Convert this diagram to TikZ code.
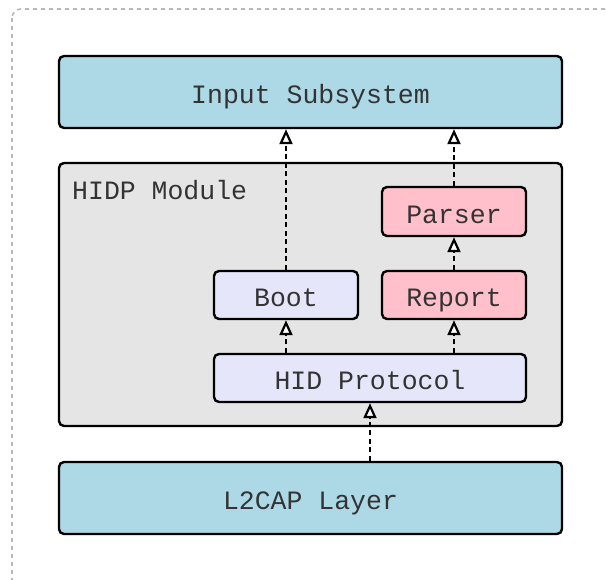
\documentclass[tikz,border=0pt]{standalone}
\usepackage{fontspec}
\setmonofont{Liberation Mono}
\usetikzlibrary{arrows.meta}
\definecolor{inblue}{HTML}{ADD8E6}
\definecolor{modgray}{HTML}{E5E5E5}
\definecolor{lav}{HTML}{E6E6FA}
\definecolor{pinkc}{HTML}{FFC0CB}
\definecolor{txt}{HTML}{333333}
\tikzset{
  box/.style={draw=black, line width=2.4pt, rounded corners=5pt, inner sep=0pt,
    font=\ttfamily\fontsize{26.5}{30}\selectfont, text=txt,
    text height=24pt, text depth=0pt},
  flow/.style={draw=black, line width=2.4pt, dash pattern=on 5pt off 3.5pt,
    -{Triangle[fill=white, length=15pt, width=13pt, line width=2.2pt]}},
}
\begin{document}
\begin{tikzpicture}[x=1pt,y=-1pt]
\useasboundingbox (0,0) rectangle (606,580);
\begin{scope}
\clip (0,0) rectangle (606,580);
\draw[gray!55, line width=1.6pt, dash pattern=on 4pt off 4pt, rounded corners=9pt] (12,9) rectangle (614,590);
\end{scope}
\node[box, fill=inblue, minimum width=503pt, minimum height=72pt] (input) at (310.5,92) {Input Subsystem};
\node[box, fill=modgray, minimum width=503pt, minimum height=263pt] (hidp) at (310.5,294.5) {};
\node[font=\ttfamily\fontsize{26.5}{30}\selectfont, text=txt, anchor=base west, inner sep=0pt] (hidplabel) at (72,200) {HIDP Module};
\node[box, fill=pinkc, minimum width=144pt, minimum height=49pt] (parser) at (454,211.5) {Parser};
\node[box, fill=pinkc, minimum width=144pt, minimum height=48pt] (report) at (454,295) {Report};
\node[box, fill=lav, minimum width=144pt, minimum height=48pt] (boot) at (286,295) {Boot};
\node[box, fill=lav, minimum width=312pt, minimum height=48pt] (hid) at (370,378) {HID Protocol};
\node[box, fill=inblue, minimum width=503pt, minimum height=72pt] (l2cap) at (310.5,498) {L2CAP Layer};
\draw[flow] (boot.north) -- (boot.north |- input.south);
\draw[flow] (parser.north) -- (parser.north |- input.south);
\draw[flow] (report.north) -- (parser.south);
\draw[flow] (boot.south |- hid.north) -- (boot.south);
\draw[flow] (report.south |- hid.north) -- (report.south);
\draw[flow] (hid.south |- l2cap.north) -- (hid.south);
\end{tikzpicture}
\end{document}
